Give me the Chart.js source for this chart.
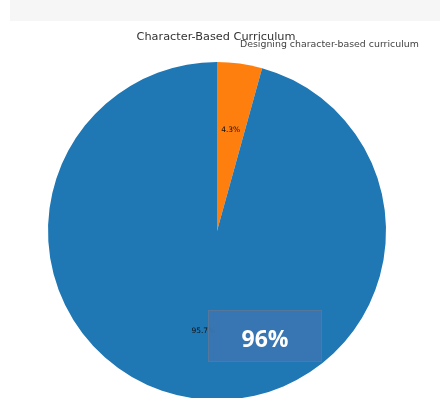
<!DOCTYPE html>
<html>
<head>
<meta charset="utf-8">
<script src="https://cdn.jsdelivr.net/npm/chart.js@4/dist/chart.umd.min.js"></script>
<style>
  html, body { margin: 0; padding: 0; background: #ffffff; overflow: hidden; width: 440px; height: 398px; }
  #band { position: absolute; left: 10px; top: 0; width: 430px; height: 21px; background: #f6f6f6; }
  #wrap { position: absolute; left: 0; top: 0; width: 440px; height: 420px; }
  #badge {
    position: absolute; left: 208px; top: 310px; width: 112px; height: 50px;
    background: rgba(58, 118, 178, 0.92); border: 1px solid #56779c;
    color: #ffffff; font-family: "Open Sans", "Noto Sans", sans-serif; font-weight: 700;
    font-size: 23px; line-height: 55px; text-align: center;
  }
</style>
</head>
<body>
<div id="band"></div>
<div id="wrap"><canvas id="c" width="440" height="420"></canvas></div>
<div id="badge"></div>
<script>
// Share of responses for the character-based curriculum question
const categories = ["Designing character-based curriculum", "Other"];
const shares = [4.3, 95.7];
const sliceColors = ["#ff7f0e", "#1f77b4"];
const chartTitle = "Character-Based Curriculum";
const legendText = "Designing character-based curriculum";

// Title, legend caption and percentage labels inside each slice
const textPlugin = {
  id: "pieText",
  afterDraw(chart) {
    const ctx = chart.ctx;
    ctx.save();
    ctx.textAlign = "center";
    ctx.textBaseline = "middle";
    ctx.fillStyle = "#333333";
    ctx.font = '11.3px "DejaVu Sans"';
    ctx.fillText(chartTitle, 216, 37);
    ctx.fillStyle = "#444444";
    ctx.font = '9.4px "DejaVu Sans"';
    ctx.textAlign = "left";
    ctx.fillText(legendText, 240, 45);

    ctx.textAlign = "center";
    ctx.fillStyle = "#111111";
    ctx.font = '7.5px "DejaVu Sans"';
    const meta = chart.getDatasetMeta(0);
    meta.data.forEach((arc, i) => {
      const p = arc.getProps(["x", "y", "startAngle", "endAngle", "outerRadius"], true);
      const mid = (p.startAngle + p.endAngle) / 2;
      const r = p.outerRadius * 0.6;
      ctx.fillText(shares[i].toFixed(1) + "%", p.x + Math.cos(mid) * r, p.y + Math.sin(mid) * r);
    });
    ctx.restore();
  }
};

new Chart(document.getElementById("c"), {
  type: "pie",
  data: {
    labels: categories,
    datasets: [{
      data: shares,
      backgroundColor: sliceColors,
      borderWidth: 0,
      hoverOffset: 0
    }]
  },
  options: {
    responsive: false,
    animation: false,
    rotation: 0,
    layout: { padding: { left: 48, right: 54, top: 62, bottom: 20 } },
    plugins: {
      legend: { display: false },
      title: { display: false },
      tooltip: { enabled: false }
    }
  },
  plugins: [textPlugin]
});

document.getElementById("badge").textContent = Math.round(shares[1]) + "%";
</script>
</body>
</html>
